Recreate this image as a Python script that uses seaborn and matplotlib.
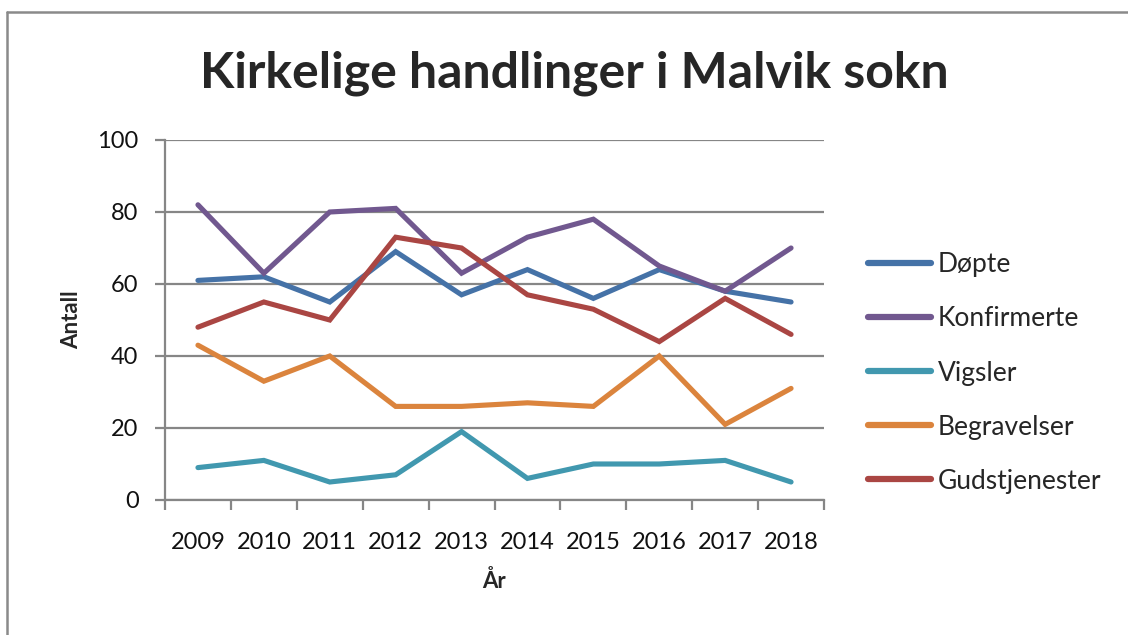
import numpy as np
import pandas as pd
import seaborn as sns
import matplotlib.pyplot as plt
from matplotlib.lines import Line2D
from matplotlib.ticker import FixedLocator, NullFormatter

# data
years = [2009, 2010, 2011, 2012, 2013, 2014, 2015, 2016, 2017, 2018]
dopte = [61, 62, 55, 69, 57, 64, 56, 64, 58, 55]
konfirmerte = [82, 63, 80, 81, 63, 73, 78, 65, 58, 70]
vigsler = [9, 11, 5, 7, 19, 6, 10, 10, 11, 5]
begravelser = [43, 33, 40, 26, 26, 27, 26, 40, 21, 31]
gudstjenester = [48, 55, 50, 73, 70, 57, 53, 44, 56, 46]

series = ['Døpte', 'Konfirmerte', 'Vigsler', 'Begravelser', 'Gudstjenester']
values = [dopte, konfirmerte, vigsler, begravelser, gudstjenester]
colors = ['#4572A7', '#71588F', '#4198AF', '#DB843D', '#AA4643']

df = pd.DataFrame({
    'År': years * len(series),
    'Antall': [v for vals in values for v in vals],
    'Serie': [s for s in series for _ in years],
})

sns.set_style('white')
plt.rcParams['font.family'] = ['Lato', 'DejaVu Sans']

W, H = 1128, 635
fig = plt.figure(figsize=(W / 100, H / 100), dpi=100)
ax = fig.add_axes([165 / W, 1 - 500 / H, (824 - 165) / W, (500 - 140) / H])

sns.lineplot(data=df, x='År', y='Antall', hue='Serie', hue_order=series,
             palette=colors, linewidth=3.7, ax=ax, solid_capstyle='round',
             solid_joinstyle='miter')

grid_col = '#868686'
ax.set_ylim(0, 100)
ax.set_xlim(years[0] - 0.5, years[-1] + 0.5)
ax.set_yticks([0, 20, 40, 60, 80, 100])
ax.yaxis.grid(True, color=grid_col, linewidth=1.6)
ax.set_axisbelow(True)

# category axis: ticks between the years, labels in the middle
ax.xaxis.set_major_locator(FixedLocator(np.arange(years[0] - 0.5, years[-1] + 1.0, 1.0)))
ax.xaxis.set_major_formatter(NullFormatter())
ax.xaxis.set_minor_locator(FixedLocator(years))
ax.set_xticklabels([str(y) for y in years], minor=True)
ax.tick_params(axis='x', which='major', length=7, width=1.6, color=grid_col, direction='out')
ax.tick_params(axis='x', which='minor', length=0, labelsize=17, pad=23, labelcolor='#111111')
ax.tick_params(axis='y', length=7, width=1.6, color=grid_col, direction='out',
               labelsize=17, pad=12, labelcolor='#111111')
ax.tick_params(bottom=True, left=True)

for side in ['top', 'right']:
    ax.spines[side].set_visible(False)
for side in ['left', 'bottom']:
    ax.spines[side].set_color(grid_col)
    ax.spines[side].set_linewidth(1.6)

ax.set_xlabel('År', fontsize=16, fontweight='bold', labelpad=12)
ax.set_ylabel('Antall', fontsize=16, fontweight='bold', labelpad=11)

leg = ax.legend(loc='center left', bbox_to_anchor=((868 - 165) / (824 - 165), (500 - 373) / 360),
                frameon=False, borderpad=0, borderaxespad=0, fontsize=19,
                handlelength=2.4, handletextpad=0.25, labelspacing=1.1)
for line in leg.get_lines():
    line.set_linewidth(4.5)
    line.set_solid_capstyle('round')

fig.text(574 / W, 1 - 73 / H, 'Kirkelige handlinger i Malvik sokn',
         fontsize=36, fontweight='bold', ha='center', va='center')

# chart area frame like the spreadsheet export (left and top only visible)
fig.lines.append(Line2D([7 / W, 7 / W], [0, 1 - 12 / H], transform=fig.transFigure,
                        color='#8a8a8a', linewidth=1.8))
fig.lines.append(Line2D([7 / W, 1.01], [1 - 12 / H, 1 - 12 / H], transform=fig.transFigure,
                        color='#8a8a8a', linewidth=1.8))

fig.savefig('out.png', dpi=100)
